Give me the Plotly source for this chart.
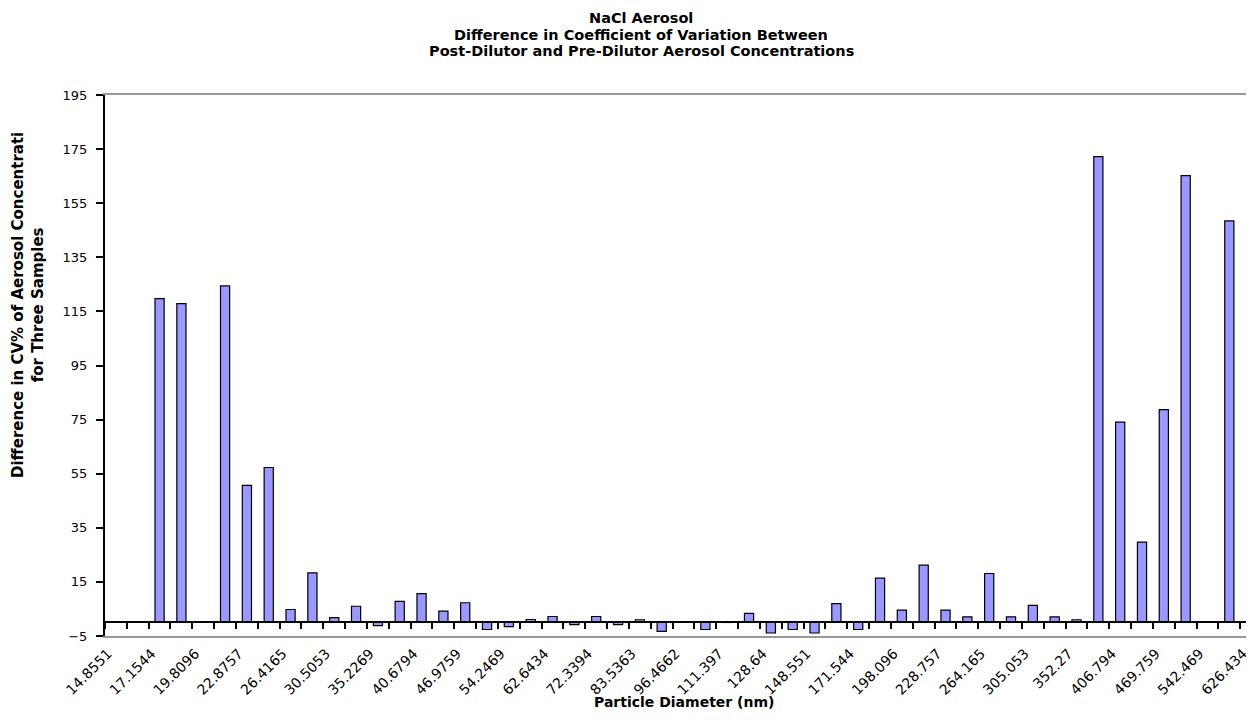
import plotly.graph_objects as go

# Particle diameter channels (nm)
categories = [
    "14.8551", "15.9634", "17.1544", "18.4342", "19.8096", "21.2875", "22.8757", "24.5824",
    "26.4165", "28.3874", "30.5053", "32.7812", "35.2269", "37.8551", "40.6794", "43.7144",
    "46.9759", "50.4806", "54.2469", "58.2942", "62.6434", "67.3169", "72.3394", "77.7365",
    "83.5363", "89.7687", "96.4662", "103.663", "111.397", "119.708", "128.64", "138.237",
    "148.551", "159.634", "171.544", "184.342", "198.096", "212.875", "228.757", "245.824",
    "264.165", "283.874", "305.053", "327.812", "352.27", "378.551", "406.794", "437.144",
    "469.759", "504.806", "542.469", "582.942", "626.434",
]

# Difference in CV% (post-dilutor minus pre-dilutor)
cv_difference = [
    0, 0, 119.7, 117.9, 0, 124.4, 50.7, 57.3,
    4.8, 18.3, 1.8, 6.0, -1.2, 7.8, 10.7, 4.2,
    7.3, -2.6, -1.5, 1.1, 2.2, -0.8, 2.2, -0.8,
    1.0, -3.3, 0, -2.6, 0.3, 3.4, -3.9, -2.6,
    -3.9, 7.0, -2.6, 16.4, 4.6, 21.2, 4.6, 2.1,
    18.1, 2.1, 6.3, 2.1, 1.0, 172.2, 74.1, 29.7,
    78.7, 165.2, 0, 148.5, 0,
]

tick_labels = categories[::2]

title_lines = [
    "NaCl Aerosol",
    "Difference in Coefficient of Variation Between",
    "Post-Dilutor and Pre-Dilutor Aerosol Concentrations",
]
y_title = "Difference in CV% of Aerosol Concentrati<br>for Three Samples"
x_title = "Particle Diameter (nm)"

FONT = "DejaVu Sans"
x_range = [-0.5, 52.13]

# the page body adds an 8px offset; compensate so the figure fills the window
OFF = 8
FIG_W, FIG_H = 1254 - OFF, 724 - OFF
# plot-area geometry in window pixels
L, T, B = 105, 95, 636
W = 1254 - L
H = B - T


def py(pix):
    return (B - pix) / H


def px(pix):
    return (pix - L) / W


fig = go.Figure()
fig.add_trace(go.Bar(
    x=categories, y=cv_difference,
    marker=dict(color="#9999FF", line=dict(color="black", width=1.2)),
    width=0.42, showlegend=False, hoverinfo="x+y",
))
# helper trace so the zero-line axis is drawn
fig.add_trace(go.Scatter(x=[None], y=[None], xaxis="x2", yaxis="y",
                         showlegend=False, hoverinfo="skip"))

annotations = []
for line, ypix in zip(title_lines, [18, 34.5, 51]):
    annotations.append(dict(
        text=line, xref="paper", yref="paper", x=px(641), y=py(ypix),
        xanchor="center", yanchor="middle", showarrow=False,
        font=dict(family=FONT, size=14.5, weight="bold", color="black")))
annotations.append(dict(
    text=y_title, textangle=-90, xref="paper", yref="paper",
    x=px(28), y=py(305), xanchor="center", yanchor="middle",
    showarrow=False, font=dict(family=FONT, size=15, weight="bold", color="black")))
annotations.append(dict(
    text=x_title, xref="paper", yref="paper",
    x=px(684), y=py(702), xanchor="center", yanchor="middle",
    showarrow=False, font=dict(family=FONT, size=14, weight="bold", color="black")))

fig.update_layout(
    width=FIG_W, height=FIG_H,
    margin=dict(l=L - OFF, r=0, t=T - OFF, b=724 - B, autoexpand=False),
    paper_bgcolor="white", plot_bgcolor="white",
    font=dict(family=FONT, color="black"),
    xaxis=dict(type="category", range=x_range, tickmode="array",
               tickvals=tick_labels, ticktext=tick_labels, tickangle=-45,
               ticks="", showline=True, linecolor="#999999", linewidth=2, mirror=True,
               showgrid=False, zeroline=False, automargin=False,
               ticklabelshift=-8, ticklabelstandoff=2,
               tickfont=dict(family=FONT, size=14, color="black")),
    xaxis2=dict(overlaying="x", anchor="free", position=5 / 200, range=x_range,
                type="linear", tick0=0.5, dtick=1, ticks="outside", ticklen=6,
                tickwidth=1.5, tickcolor="black", showline=True, linecolor="black",
                linewidth=1.5, showticklabels=False, showgrid=False, zeroline=False,
                automargin=False),
    yaxis=dict(range=[-5, 195], tick0=-5, dtick=20, tickmode="linear",
               ticks="outside", ticklen=7, tickwidth=1.5, tickcolor="black",
               showline=True, linecolor="black", linewidth=2, mirror=False,
               showgrid=False, zeroline=False, automargin=False,
               ticklabelstandoff=6,
               tickfont=dict(family=FONT, size=13, color="black")),
    annotations=annotations,
)

fig.write_html("out.html")
